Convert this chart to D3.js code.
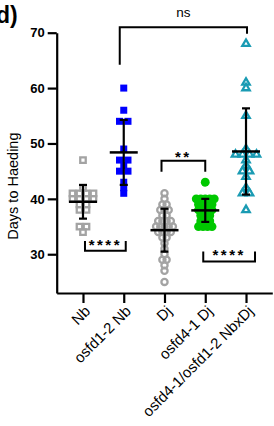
<!DOCTYPE html>
<html>
<head>
<meta charset="utf-8">
<script src="https://cdn.jsdelivr.net/npm/d3@7"></script>
<style>
  body { margin: 0; background: #fff; }
  svg { font-family: "Liberation Sans", Arial, sans-serif; }
</style>
</head>
<body>
<svg id="chart" width="274" height="426"></svg>
<script>

// data

const categories = ["Nb", "osfd1-2 Nb", "Dj", "osfd4-1 Dj", "osfd4-1/osfd1-2 NbxDj"];

const nbDays = [47, 42, 41, 41, 41, 41, 40, 40, 40, 40, 39, 39, 38, 38, 35, 35, 34];
const osfd12NbDays = [60, 56, 54, 54, 49, 47, 47, 46, 45, 45, 43, 42, 41];
const djDays = [41, 40, 39, 39, 38, 38, 38, 37, 37, 36, 36, 36, 36, 35, 35, 35, 35, 35,
                34, 34, 34, 34, 33, 33, 32, 31, 30, 29, 29, 28, 27, 25];
const osfd41DjDays = [43, 40, 40, 40, 40, 40, 39, 39, 39, 39, 38, 38, 38, 38, 37, 37, 37,
                      36, 36, 36, 35, 35, 35, 35];
const doubleDays = [68, 61, 60, 55, 49, 48, 48, 48, 48, 47, 46, 45, 45, 44, 42, 41, 41, 38];

const yTicks = [30, 40, 50, 60, 70];

// brackets: from, to, bar value, leg end values, label
const bracketFrom = ["osfd1-2 Nb", "Dj", "Nb", "osfd4-1 Dj"];
const bracketTo = ["osfd4-1/osfd1-2 NbxDj", "osfd4-1 Dj", "osfd1-2 Nb", "osfd4-1/osfd1-2 NbxDj"];
const bracketBar = [71.0, 46.9, 30.65, 28.7];
const bracketLegFrom = [64.2, 44.9, 32.4, 30.5];
const bracketLegTo = [69.8, 44.9, 32.4, 30.5];
const bracketLabel = ["ns", "**", "****", "****"];

// graphics

const svg = d3.select("#chart");

const x = d3.scalePoint()
  .domain(categories)
  .range([56.7, 272.3])
  .padding(0.645);

const y = d3.scaleLinear()
  .domain([23, 70])
  .range([293, 32.7]);

const series = [
  { name: "Nb", values: nbDays, symbol: d3.symbolSquare, size: 30, color: "#a3a3a3", open: true, gap: 7 },
  { name: "osfd1-2 Nb", values: osfd12NbDays, symbol: d3.symbolSquare, size: 49, color: "#0000ff", open: false, gap: 8.5 },
  { name: "Dj", values: djDays, symbol: d3.symbolCircle, size: 30, color: "#a3a3a3", open: true, gap: 4.2 },
  { name: "osfd4-1 Dj", values: osfd41DjDays, symbol: d3.symbolCircle, size: 62, color: "#00c800", open: false, gap: 4.5 },
  { name: "osfd4-1/osfd1-2 NbxDj", values: doubleDays, symbol: d3.symbolTriangle, size: 24, color: "#1a9bb3", open: true, gap: 7 }
];

// title
svg.append("text")
  .attr("x", -4)
  .attr("y", 23)
  .attr("font-size", 23)
  .attr("font-weight", "bold")
  .text("d)");

// axes
const yAxis = svg.append("g")
  .attr("transform", "translate(56.7,0)")
  .call(d3.axisLeft(y).tickValues(yTicks).tickSize(9).tickSizeOuter(0).tickPadding(3));

const xAxis = svg.append("g")
  .attr("transform", "translate(0,293)")
  .call(d3.axisBottom(x).tickSize(10).tickSizeOuter(0));

[yAxis, xAxis].forEach(ax => {
  ax.select(".domain").attr("stroke-width", 2.2);
  ax.selectAll(".tick line").attr("stroke-width", 2.2);
});

yAxis.selectAll("text")
  .attr("font-size", 13)
  .attr("font-weight", "bold")
  .attr("fill", "#000");

xAxis.selectAll("text")
  .attr("font-size", 15)
  .attr("fill", "#000")
  .attr("text-anchor", "end")
  .attr("dy", 0)
  .attr("x", -8)
  .attr("y", 19)
  .attr("transform", "rotate(-45)");

svg.append("text")
  .attr("transform", `translate(18,${y(42.3)}) rotate(-90)`)
  .attr("text-anchor", "middle")
  .attr("font-size", 14.5)
  .text("Days to Haeding");

// spread equal values across a row
function rowOffsets(values, gap) {
  let rows = d3.group(values.map((v, i) => ({ v, i })), d => d.v);
  let out = [];
  for (let [v, row] of rows) {
    row.forEach((d, k) => {
      out.push({ v, dx: (k - (row.length - 1) / 2) * gap });
    });
  }
  return out;
}

// points
series.forEach(s => {
  const pts = rowOffsets(s.values, s.gap);
  const g = svg.append("g");
  g.selectAll("path")
    .data(pts)
    .enter()
    .append("path")
    .attr("d", d3.symbol().type(s.symbol).size(s.size))
    .attr("transform", d => `translate(${x(s.name) + d.dx},${y(d.v)})`)
    .attr("fill", s.open ? "none" : s.color)
    .attr("stroke", s.color)
    .attr("stroke-width", s.open ? 2.3 : 0);
});

// mean +/- sd
series.forEach(s => {
  const m = d3.mean(s.values);
  const sd = d3.deviation(s.values);
  const cx = x(s.name);
  const g = svg.append("g").attr("stroke", "#000");
  g.append("line")
    .attr("x1", cx).attr("x2", cx)
    .attr("y1", y(m + sd)).attr("y2", y(m - sd))
    .attr("stroke-width", 2.2);
  [m + sd, m - sd].forEach(v => {
    g.append("line")
      .attr("x1", cx - 4).attr("x2", cx + 4)
      .attr("y1", y(v)).attr("y2", y(v))
      .attr("stroke-width", 2.2);
  });
  g.append("line")
    .attr("x1", cx - 14).attr("x2", cx + 14)
    .attr("y1", y(m)).attr("y2", y(m))
    .attr("stroke-width", 2.5);
});

// significance brackets
bracketLabel.forEach((lab, i) => {
  let x1 = x(bracketFrom[i]) - 4;
  let x2 = x(bracketTo[i]) + 1;
  if (lab == "****" && i == 3) { x1 = x(bracketFrom[i]) - 2; x2 = x(bracketTo[i]) + 9; }
  if (lab == "****" && i == 2) { x1 = x(bracketFrom[i]) + 2; x2 = x(bracketTo[i]) + 2; }
  if (lab == "**") { x1 = x(bracketFrom[i]) - 3; x2 = x(bracketTo[i]); }
  const path = d3.path();
  path.moveTo(x1, y(bracketLegFrom[i]));
  path.lineTo(x1, y(bracketBar[i]));
  path.lineTo(x2, y(bracketBar[i]));
  path.lineTo(x2, y(bracketLegTo[i]));
  svg.append("path")
    .attr("d", path.toString())
    .attr("fill", "none")
    .attr("stroke", "#000")
    .attr("stroke-width", 2);

  const stars = lab.startsWith("*");
  const above = bracketBar[i] > bracketLegFrom[i];
  svg.append("text")
    .attr("x", (x1 + x2) / 2)
    .attr("y", above ? y(bracketBar[i]) - (stars ? -1 : 10) : y(bracketLegFrom[i]) + 9)
    .attr("text-anchor", "middle")
    .attr("font-size", stars ? 15 : 13.5)
    .attr("font-weight", stars ? "bold" : "normal")
    .attr("letter-spacing", stars ? 2.5 : 0)
    .text(lab);
});

</script>
</body>
</html>
